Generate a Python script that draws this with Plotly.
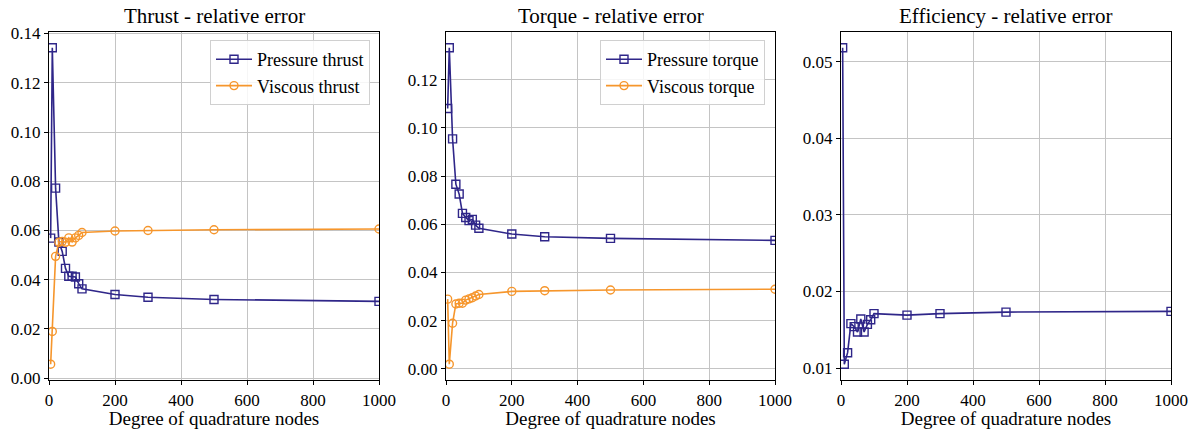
import plotly.graph_objects as go

# ---------------- data ----------------
x_nodes = [5, 10, 20, 30, 40, 50, 60, 70, 80, 90, 100, 200, 300, 500, 1000]

pressure_thrust = [0.0569, 0.1342, 0.0772, 0.0553, 0.0515, 0.0446, 0.0414, 0.0414,
                   0.0411, 0.0384, 0.0363, 0.0340, 0.0329, 0.0320, 0.0312]
viscous_thrust = [0.0057, 0.0190, 0.0495, 0.0552, 0.0556, 0.0552, 0.0570, 0.0553,
                  0.0570, 0.0580, 0.0592, 0.0598, 0.0600, 0.0603, 0.0606]

pressure_torque = [0.1080, 0.1332, 0.0954, 0.0766, 0.0725, 0.0645, 0.0628, 0.0615,
                   0.0620, 0.0596, 0.0583, 0.0559, 0.0548, 0.0541, 0.0533]
viscous_torque = [0.0289, 0.0019, 0.0189, 0.0269, 0.0272, 0.0272, 0.0285, 0.0290,
                  0.0295, 0.0302, 0.0308, 0.0321, 0.0324, 0.0327, 0.0330]

efficiency = [0.0518, 0.0105, 0.0120, 0.0158, 0.0154, 0.0147, 0.0164, 0.0147,
              0.0157, 0.0163, 0.0171, 0.0169, 0.0171, 0.0173, 0.0174]

titles = ["Thrust - relative error", "Torque - relative error", "Efficiency - relative error"]
x_title = "Degree of quadrature nodes"
x_ticks = [0, 200, 400, 600, 800, 1000]
y_ticks_1 = [0.00, 0.02, 0.04, 0.06, 0.08, 0.10, 0.12, 0.14]
y_ticks_2 = [0.00, 0.02, 0.04, 0.06, 0.08, 0.10, 0.12]
y_ticks_3 = [0.01, 0.02, 0.03, 0.04, 0.05]

# ---------------- style ----------------
BLUE = "#2f2689"
ORANGE = "#f6962c"
FONT = "Liberation Serif"
FS_TICK = 17
FS_LABEL = 19
FS_LEG = 18
FS_TITLE = 21

W, H = 1192, 429
L, T = 49, 32
R = W - 1171
B = H - 380
pw = W - L - R
ph = H - T - B

def dom(a, b):
    return [(a - L) / pw, (b - L) / pw]

domains = [dom(49, 379), dom(446, 775), dom(841, 1171)]

fig = go.Figure()

def add(x, y, name, color, symbol, ax, legend, show):
    fig.add_trace(go.Scatter(
        x=x, y=y, name=name, mode="lines+markers",
        line=dict(color=color, width=1.6),
        marker=dict(symbol=symbol, size=8, color=color, line=dict(width=1.4, color=color)),
        xaxis="x" + ax, yaxis="y" + ax, legend=legend, showlegend=show,
    ))

add(x_nodes, pressure_thrust, "Pressure thrust", BLUE, "square-open", "", "legend", True)
add(x_nodes, viscous_thrust, "Viscous thrust", ORANGE, "circle-open", "", "legend", True)
add(x_nodes, pressure_torque, "Pressure torque", BLUE, "square-open", "2", "legend2", True)
add(x_nodes, viscous_torque, "Viscous torque", ORANGE, "circle-open", "2", "legend2", True)
add(x_nodes, efficiency, "Efficiency", BLUE, "square-open", "3", "legend", False)

axis_common = dict(
    showline=True, mirror=True, linecolor="black", linewidth=1.3,
    ticks="outside", ticklen=4, tickwidth=1.2, tickcolor="black",
    showgrid=True, gridcolor="#c4c4c4", gridwidth=1,
    zeroline=False, tickfont=dict(family=FONT, size=FS_TICK, color="black"),
    automargin=False,
)

def y_range(vals):
    lo, hi = min(vals), max(vals)
    m = 0.05 * (hi - lo)
    return [lo - m, hi + m]

yr1 = y_range(pressure_thrust + viscous_thrust)
yr2 = y_range(pressure_torque + viscous_torque)
yr3 = y_range(efficiency)

layout = dict(
    width=W, height=H,
    margin=dict(l=L, r=R, t=T, b=B, autoexpand=False),
    paper_bgcolor="white", plot_bgcolor="white",
    font=dict(family=FONT, size=FS_TICK, color="black"),
)

for i, (suffix, yr, yt) in enumerate([("", yr1, y_ticks_1), ("2", yr2, y_ticks_2), ("3", yr3, y_ticks_3)]):
    layout["xaxis" + suffix] = dict(
        axis_common, domain=domains[i], range=[0, 1000], tickvals=x_ticks,
        ticktext=[str(v) for v in x_ticks], anchor="y" + suffix,
        title=dict(text=x_title, font=dict(family=FONT, size=FS_LABEL, color="black"), standoff=2),
    )
    layout["yaxis" + suffix] = dict(
        axis_common, domain=[0, 1], range=yr, tickvals=yt,
        ticktext=["%.2f" % v for v in yt], anchor="x" + suffix,
    )

legend_common = dict(
    bgcolor="rgba(255,255,255,0.85)", bordercolor="#d0d0d0", borderwidth=1,
    font=dict(family=FONT, size=FS_LEG, color="black"),
    xanchor="right", yanchor="top", tracegroupgap=0, itemwidth=36,
)
layout["legend"] = dict(legend_common, x=(370 - L) / pw, y=1 - (40 - T) / ph)
layout["legend2"] = dict(legend_common, x=(765 - L) / pw, y=1 - (40 - T) / ph)

annotations = []
for i, t in enumerate(titles):
    annotations.append(dict(
        text=t, x=(domains[i][0] + domains[i][1]) / 2, y=1, xref="paper", yref="paper",
        xanchor="center", yanchor="bottom", yshift=2, showarrow=False,
        font=dict(family=FONT, size=FS_TITLE, color="black"),
    ))
layout["annotations"] = annotations

fig.update_layout(**layout)
fig.write_html(
    "out.html",
    config={"displayModeBar": False},
    post_script="document.body.style.margin='0';document.body.style.overflow='hidden';",
)
